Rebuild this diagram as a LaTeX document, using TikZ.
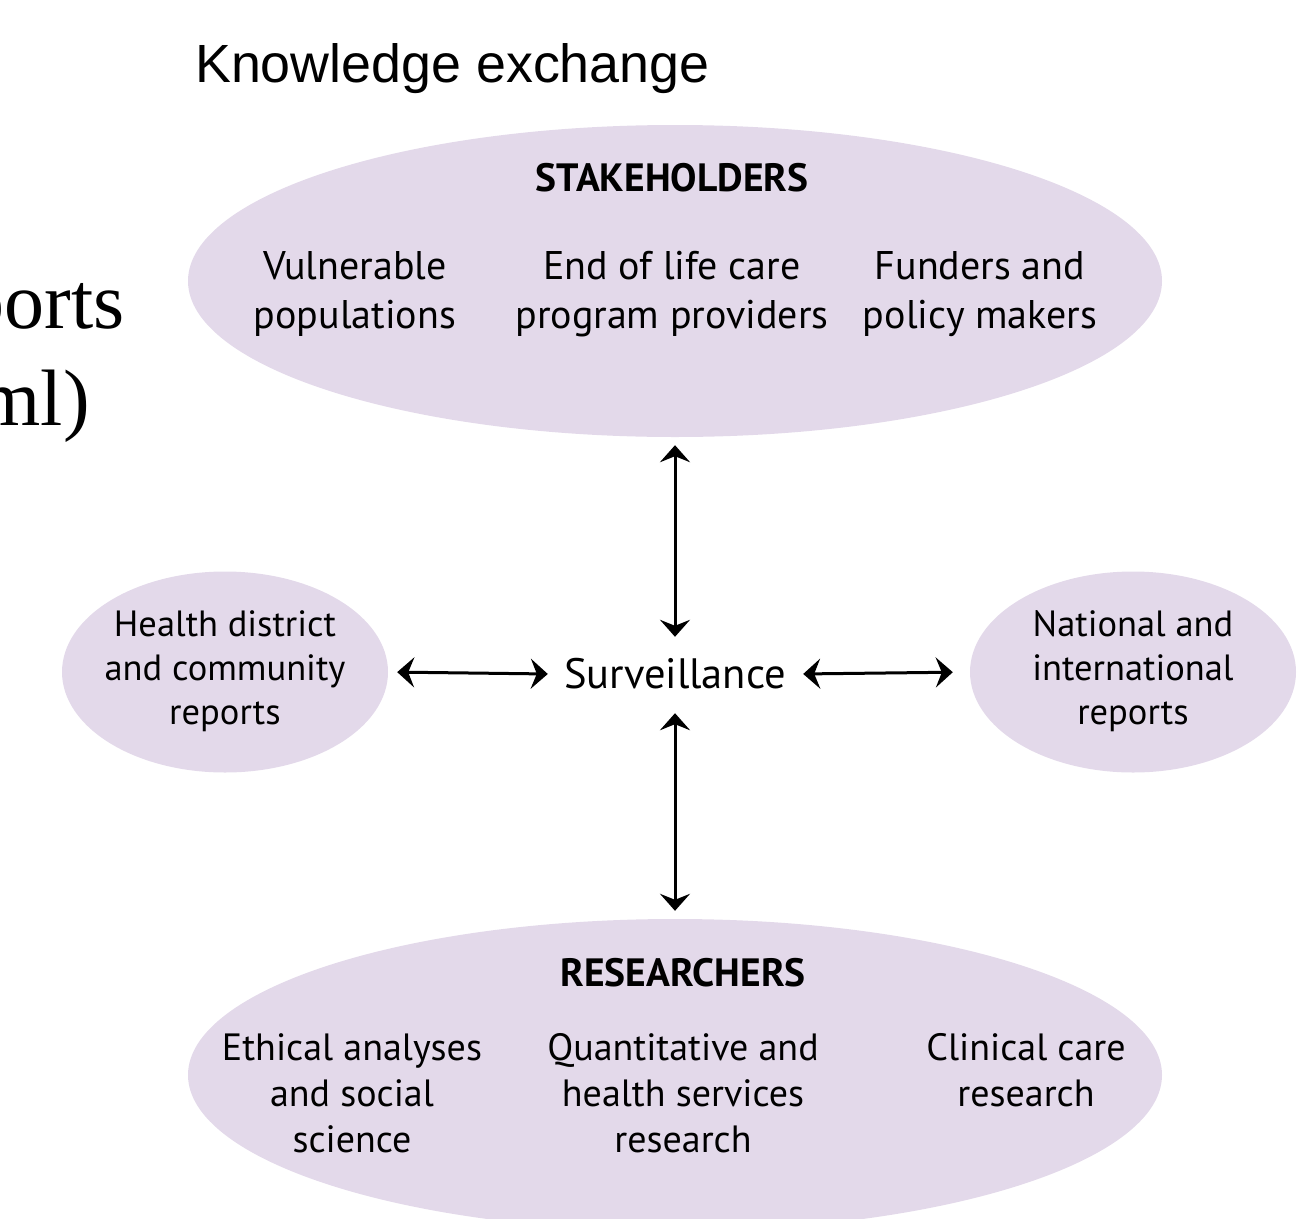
\documentclass[tikz,border=0pt]{standalone}
\usepackage{fontspec}
\setmainfont{PT Sans}
\newfontfamily\titlefont{Liberation Sans}
\newfontfamily\seriffont{Liberation Serif}
\usetikzlibrary{shapes.geometric,arrows.meta}
\definecolor{lilac}{HTML}{E3D9EA}
\tikzset{
  blob/.style={ellipse, fill=lilac, draw=none, inner sep=0pt},
  label/.style={inner sep=0pt, align=center, font=\fontsize{40}{49}\selectfont},
  small/.style={inner sep=0pt, align=center, font=\fontsize{36.5}{44}\selectfont},
  head/.style={inner sep=0pt, font=\fontsize{39.5}{44}\selectfont\bfseries},
  frag/.style={anchor=base east, inner sep=0pt, font=\seriffont\fontsize{80}{96}\selectfont},
  link/.style={line width=3pt, {Stealth[length=17pt,width=30pt,inset=6pt]}-{Stealth[length=17pt,width=30pt,inset=6pt]}}
}
\begin{document}
\begin{tikzpicture}[x=1pt,y=-1pt]
\useasboundingbox (0,0) rectangle (1309,1218);
\node[anchor=base west, inner sep=0pt, font=\titlefont\fontsize{53.8}{60}\selectfont] (title) at (195,82) {Knowledge exchange};
\node[frag] (frag1) at (125,328) {ports};
\node[frag] (frag2) at (90,425) {ml)};
% ellipses
\node[blob, minimum width=974pt, minimum height=312pt] (top) at (675,281) {};
\node[blob, minimum width=974pt, minimum height=312pt] (bot) at (675,1075) {};
\node[blob, minimum width=326pt, minimum height=201pt] (left) at (225,672) {};
\node[blob, minimum width=326pt, minimum height=201pt] (right) at (1133,672) {};
% top texts
\node[head] (sh) at (672,178) {STAKEHOLDERS};
\node[label] (vp) at (355,294) {Vulnerable\\populations};
\node[label] (eol) at (672,294) {End of life care\\program providers};
\node[label] (fp) at (980,294) {Funders and\\policy makers};
% side texts
\node[small] (hd) at (225,671) {Health district\\and community\\reports};
\node[small] (ni) at (1133,671) {National and\\international\\reports};
% centre
\node[inner sep=0pt, minimum width=250pt, minimum height=70pt, font=\fontsize{42.5}{48}\selectfont] (surv) at (675,674) {Surveillance};
% bottom texts
\node[head] (rs) at (683,973) {RESEARCHERS};
\node[small, font=\fontsize{38}{46}\selectfont] (eth) at (352,1093) {Ethical analyses\\and social\\science};
\node[small, font=\fontsize{38}{46}\selectfont] (qua) at (683,1093) {Quantitative and\\health services\\research};
\node[small, font=\fontsize{38}{46}\selectfont] (cli) at (1026,1070) {Clinical care\\research};
% connectors
\draw[link, shorten <=8pt, shorten >=2pt] (top.south) -- (surv.north);
\draw[link, shorten <=4pt, shorten >=8pt] (surv.south) -- (bot.north);
\draw[link, shorten <=9pt, shorten >=2pt] (left.east) -- (surv.west);
\draw[link, shorten <=3pt, shorten >=17pt] (surv.east) -- (right.west);
\end{tikzpicture}
\end{document}
